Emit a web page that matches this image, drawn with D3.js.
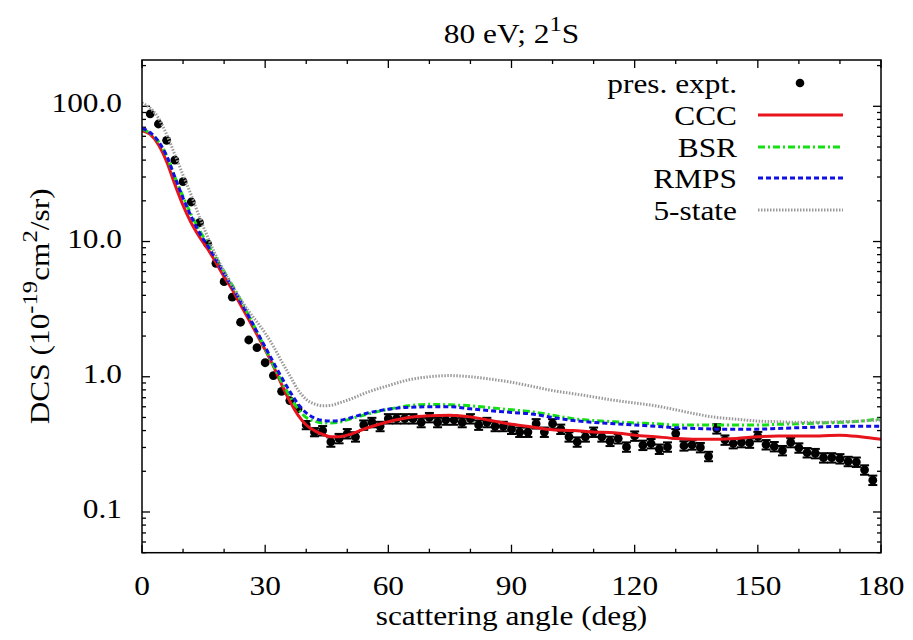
<!DOCTYPE html>
<html><head><meta charset="utf-8">
<script src="https://cdn.jsdelivr.net/npm/d3@7"></script>
</head><body style="margin:0">
<svg id="c" width="913" height="640"></svg>
<script>
// ---------- data ----------
const title = "80 eV; 2";
const xTicks = [0, 30, 60, 90, 120, 150, 180];
const xMinor = [10, 20, 40, 50, 70, 80, 100, 110, 130, 140, 160, 170];
const yTicks = [0.1, 1, 10, 100];
const yTickLabels = ["0.1", "1.0", "10.0", "100.0"];

const exptAngle = [2,4,6,8,10,12,14,16,18,20,22,24,26,28,30,32,34,36,38,40,
  42,44,46,48,50,52,54,56,58,60,62,64,66,68,70,72,74,76,78,80,
  82,84,86,88,90,92,94,96,98,100,102,104,106,108,110,112,114,116,118,120,
  122,124,126,128,130,132,134,136,138,140,142,144,146,148,150,152,154,156,158,160,
  162,164,166,168,170,172,174,176,178];
const exptDCS = [88,74,56,40,27.7,19.6,13.8,9.6,6.9,5.05,3.88,2.53,1.87,1.64,1.27,1.02,0.78,0.667,0.58,0.44,
  0.39,0.40,0.33,0.35,0.38,0.36,0.44,0.46,0.43,0.49,0.49,0.49,0.49,0.46,0.50,0.46,0.48,0.48,0.46,0.49,
  0.44,0.46,0.43,0.43,0.41,0.39,0.39,0.45,0.39,0.45,0.41,0.36,0.33,0.36,0.39,0.36,0.334,0.349,0.303,0.365,
  0.312,0.321,0.292,0.303,0.38,0.309,0.314,0.30,0.258,0.413,0.341,0.321,0.327,0.324,0.362,0.315,0.305,0.285,0.327,0.298,
  0.275,0.271,0.252,0.252,0.248,0.237,0.234,0.205,0.172];
// relative errors (fraction of value)
const exptErr = [0,0,0,0,0,0,0,0,0,0,0,0,0,0,0,0,0,0,0,0.07,
  0.07,0.08,0.08,0.08,0.08,0.08,0.08,0.08,0.08,0.08,0.08,0.08,0.08,0.08,0.08,0.08,0.08,0.08,0.08,0.08,
  0.08,0.08,0.08,0.08,0.08,0.08,0.08,0.08,0.08,0.08,0.08,0.08,0.08,0.08,0.08,0.08,0.08,0.08,0.08,0.08,
  0.08,0.08,0.08,0.08,0.08,0.08,0.08,0.08,0.08,0.08,0.08,0.08,0.08,0.08,0.08,0.08,0.08,0.08,0.08,0.08,
  0.08,0.08,0.08,0.08,0.08,0.08,0.08,0.08,0.08];

const thAngle = [0,2,4,6,8,10,12,14,16,18,20,22,24,26,28,30,32,34,36,38,40,42,44,46,48,50,
  55,60,65,70,75,80,85,90,95,100,105,110,115,120,125,130,135,140,145,150,155,160,165,170,175,180];
const ccc = [66,62,52,39,26.5,18.5,13.7,10.8,8.8,7.0,5.5,4.4,3.4,2.65,2.05,1.58,1.2,0.88,0.66,0.52,0.44,0.40,0.375,0.36,0.36,0.37,
  0.42,0.465,0.50,0.515,0.52,0.505,0.475,0.445,0.425,0.405,0.40,0.39,0.385,0.37,0.36,0.35,0.345,0.345,0.35,0.36,0.365,0.365,0.365,0.37,0.36,0.345];
const bsr = [68,63,55,43,30,21.5,15.8,12.1,9.6,7.6,6.0,4.75,3.7,2.85,2.15,1.62,1.22,0.92,0.72,0.58,0.50,0.47,0.455,0.455,0.46,0.48,
  0.53,0.575,0.61,0.625,0.62,0.61,0.59,0.57,0.55,0.52,0.49,0.475,0.465,0.455,0.45,0.44,0.44,0.44,0.44,0.44,0.445,0.45,0.455,0.46,0.47,0.49];
const rmps = [69,64,55,43,30,21,15.3,11.6,9.3,7.4,5.8,4.6,3.6,2.8,2.15,1.66,1.28,0.99,0.78,0.63,0.54,0.495,0.475,0.47,0.475,0.49,
  0.54,0.575,0.595,0.60,0.60,0.58,0.56,0.545,0.53,0.50,0.475,0.46,0.45,0.44,0.43,0.42,0.415,0.41,0.41,0.41,0.415,0.42,0.425,0.43,0.43,0.43];
const fiveState = [106,97,82,62,44,31,22,15.2,10.8,7.9,6.0,4.7,3.75,3.05,2.55,2.1,1.68,1.3,1.02,0.80,0.68,0.63,0.61,0.615,0.64,0.67,
  0.77,0.86,0.95,1.00,1.02,1.00,0.96,0.91,0.85,0.79,0.75,0.71,0.67,0.64,0.61,0.57,0.53,0.50,0.485,0.47,0.465,0.46,0.46,0.465,0.47,0.48];

const seriesNames = ["CCC", "BSR", "RMPS", "5-state"];
const seriesData = [ccc, bsr, rmps, fiveState];
const exptName = "pres. expt.";

// ---------- styles ----------
const styles = [
  {color:"#e8141c", dash:null, width:3},
  {color:"#14e014", dash:"7,3,2,3", width:3},
  {color:"#1010e6", dash:"5,3", width:3},
  {color:"#9a9a9a", dash:"1.5,1.5", width:3}
];
const SX = 1.12, FS = 28;
const FONT = '"Liberation Serif"';

const svg = d3.select("#c");
const L = 142, R = 881, T = 60, B = 552.7;
const x = d3.scaleLinear().domain([0,180]).range([L,R]);
const y = d3.scaleLog().domain([0.05,220]).range([B,T]);

function txt(g, str, px, py, anchor, size) {
  return g.append("text")
    .attr("transform", `translate(${px},${py}) scale(${SX},1)`)
    .attr("text-anchor", anchor || "middle")
    .style("font-family", FONT)
    .attr("font-size", size || FS)
    .attr("fill", "#000")
    .text(str);
}

// clip
svg.append("defs").append("clipPath").attr("id","clip")
  .append("rect").attr("x",L).attr("y",T).attr("width",R-L).attr("height",B-T);

// ticks (inward, mirrored)
const tg = svg.append("g").attr("stroke","#000").attr("stroke-width",1.3);
xTicks.forEach(v => {
  tg.append("line").attr("x1",x(v)).attr("x2",x(v)).attr("y1",B).attr("y2",B-8);
  tg.append("line").attr("x1",x(v)).attr("x2",x(v)).attr("y1",T).attr("y2",T+8);
});
xMinor.forEach(v => {
  tg.append("line").attr("x1",x(v)).attr("x2",x(v)).attr("y1",B).attr("y2",B-4);
  tg.append("line").attr("x1",x(v)).attr("x2",x(v)).attr("y1",T).attr("y2",T+4);
});
const yMinor = [];
[0.01,0.1,1,10,100].forEach(d => { for (let k=2;k<=9;k++){ const v=d*k; if (v>=0.05 && v<=220) yMinor.push(v);} });
yTicks.forEach(v => {
  tg.append("line").attr("x1",L).attr("x2",L+8).attr("y1",y(v)).attr("y2",y(v));
  tg.append("line").attr("x1",R).attr("x2",R-8).attr("y1",y(v)).attr("y2",y(v));
});
yMinor.forEach(v => {
  tg.append("line").attr("x1",L).attr("x2",L+4).attr("y1",y(v)).attr("y2",y(v));
  tg.append("line").attr("x1",R).attr("x2",R-4).attr("y1",y(v)).attr("y2",y(v));
});

// tick labels
const lg = svg.append("g");
xTicks.forEach(v => txt(lg, String(v), x(v), B+42, "middle"));
yTicks.forEach((v,i) => txt(lg, yTickLabels[i], 122, y(v)+6, "end"));

// axis titles
txt(lg, "scattering angle (deg)", (L+R)/2, 625, "middle");
const yl = svg.append("text")
  .attr("transform", `translate(49,${(T+B)/2}) rotate(-90) scale(${SX},1)`)
  .attr("text-anchor","middle")
  .style("font-family", FONT).attr("font-size", FS).attr("fill","#000");
yl.append("tspan").text("DCS (10");
yl.append("tspan").attr("font-size",22).attr("dy",-12).text("-19");
yl.append("tspan").attr("dy",12).text("cm");
yl.append("tspan").attr("font-size",22).attr("dy",-12).text("2");
yl.append("tspan").attr("dy",12).text("/sr)");

// title
const tt = svg.append("text")
  .attr("transform", `translate(${(L+R)/2},42.7) scale(${SX},1)`)
  .attr("text-anchor","middle")
  .style("font-family", FONT).attr("font-size", FS).attr("fill","#000");
tt.append("tspan").text(title);
tt.append("tspan").attr("font-size",22).attr("dy",-12).text("1");
tt.append("tspan").attr("dy",12).text("S");

// plot content
const pg = svg.append("g").attr("clip-path","url(#clip)");

// experiment with error bars
const expt = exptAngle.map((a,i) => ({a, v: exptDCS[i], e: exptDCS[i]*exptErr[i]}));
const eg = pg.append("g").attr("stroke","#000").attr("stroke-width",1.5);
expt.filter(d => d.e > 0).forEach(d => {
  const px = x(d.a), y1 = y(d.v + d.e), y2 = y(d.v - d.e);
  eg.append("line").attr("x1",px).attr("x2",px).attr("y1",y1).attr("y2",y2);
  eg.append("line").attr("x1",px-4.5).attr("x2",px+4.5).attr("y1",y1).attr("y2",y1).attr("stroke-width",2);
  eg.append("line").attr("x1",px-4.5).attr("x2",px+4.5).attr("y1",y2).attr("y2",y2).attr("stroke-width",2);
});
pg.append("g").selectAll("circle").data(expt).join("circle")
  .attr("cx", d => x(d.a)).attr("cy", d => y(d.v)).attr("r", 4.4).attr("fill","#000");

// theory lines
const line = d3.line().x(d => x(d[0])).y(d => y(d[1])).curve(d3.curveMonotoneX);
seriesData.forEach((s,i) => {
  const st = styles[i];
  pg.append("path").datum(thAngle.map((a,j) => [a, s[j]]))
    .attr("d", line).attr("fill","none")
    .attr("stroke", st.color).attr("stroke-width", st.width)
    .attr("stroke-dasharray", st.dash);
});

// frame
svg.append("rect").attr("x",L).attr("y",T).attr("width",R-L).attr("height",B-T)
  .attr("fill","none").attr("stroke","#000").attr("stroke-width",1.5);

// legend
const leg = svg.append("g");
const legY = [83, 115, 147, 178, 210];
txt(leg, exptName, 737, legY[0]+10, "end");
leg.append("circle").attr("cx",800).attr("cy",legY[0]).attr("r",4.3).attr("fill","#000");
seriesNames.forEach((n,i) => {
  const yy = legY[i+1];
  txt(leg, n, 737, yy+10, "end");
  const st = styles[i];
  leg.append("line").attr("x1",758).attr("x2",843).attr("y1",yy).attr("y2",yy)
    .attr("stroke",st.color).attr("stroke-width",st.width).attr("stroke-dasharray",st.dash);
});
</script>
</body></html>
